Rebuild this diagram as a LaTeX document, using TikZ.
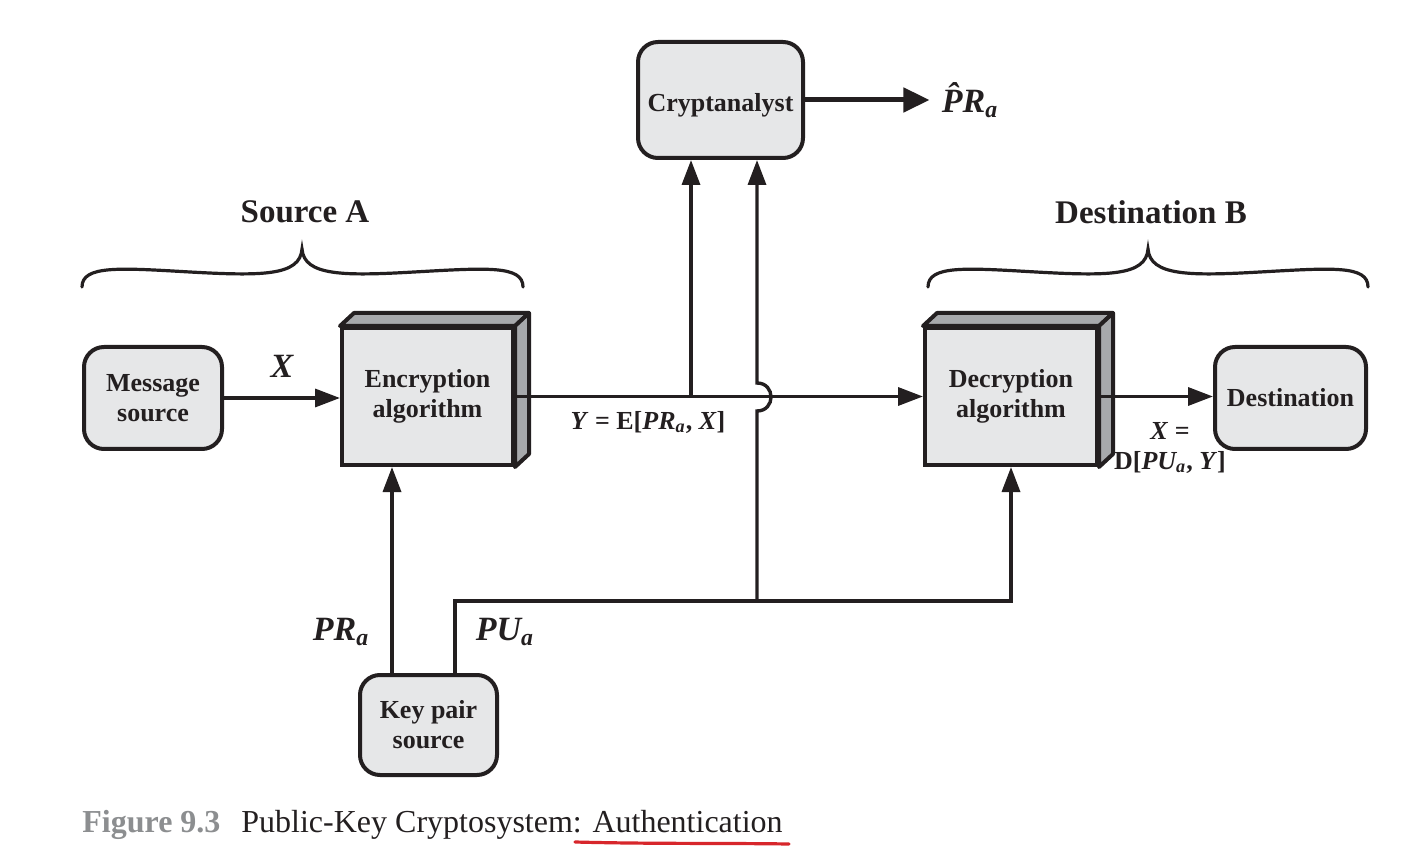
\documentclass[tikz,border=0pt]{standalone}
\usepackage{fontspec}
\setmainfont{Liberation Serif}
\usetikzlibrary{arrows.meta,calc}
\definecolor{boxfill}{HTML}{E6E7E8}
\definecolor{sidefill}{HTML}{A7A9AC}
\definecolor{ink}{HTML}{231F20}
\definecolor{capgray}{HTML}{8C8E90}
\definecolor{redmark}{HTML}{D7262B}
\newcommand\boxfont{\fontsize{13}{15}\selectfont\bfseries}
\newcommand\lblfont{\fontsize{17}{20}\selectfont\bfseries\itshape}
\newcommand\eqfont{\fontsize{13}{15}\selectfont\bfseries}
\newcommand\headfont{\fontsize{16.5}{19}\selectfont\bfseries}
\newcommand\capfont{\fontsize{16}{18}\selectfont}
\tikzset{
  rbox/.style={draw=ink, fill=boxfill, line width=2pt, rounded corners=10pt,
    align=center, font=\boxfont, text=ink, inner sep=0pt},
  cube/.style={draw=ink, fill=boxfill, line width=2pt,
    align=center, font=\boxfont, text=ink, inner sep=0pt},
  sideface/.style={draw=ink, fill=sidefill, line width=2pt, line join=round},
  conn/.style={draw=ink, line width=1.7pt},
  arr/.style={conn, -{Triangle[length=12.5pt,width=9pt]}},
  bigarr/.style={draw=ink, line width=2.5pt, -{Triangle[length=13pt,width=12pt]}},
  lbl/.style={font=\lblfont, text=ink, inner sep=1pt},
  eq/.style={font=\eqfont, text=ink, inner sep=1pt},
  head/.style={font=\headfont, text=ink, inner sep=1pt},
  bracestyle/.style={draw=ink, line width=1.6pt, line cap=round},
}
\begin{document}
\begin{tikzpicture}[x=0.5pt,y=-0.5pt]
\useasboundingbox (0,0) rectangle (1428,849);

% boxes
\node[rbox, minimum width=69pt, minimum height=51pt] (msg) at (153,398) {Message\\source};
\node[cube, minimum width=85.5pt, minimum height=68.5pt] (enc) at (427.5,396.5) {Encryption\\algorithm};
\node[cube, minimum width=86pt, minimum height=68.5pt] (dec) at (1011,396.5) {Decryption\\algorithm};
\node[rbox, minimum width=75.5pt, minimum height=51pt] (dest) at (1290.5,398) {Destination};
\node[rbox, minimum width=82.5pt, minimum height=58pt, text height=15pt, text depth=3pt] (crypt) at (720.5,100) {Cryptanalyst};
\node[rbox, minimum width=68.5pt, minimum height=50pt] (key) at (428.5,725) {Key pair\\source};

% 3D faces
\foreach \b in {enc,dec}{
  \draw[sideface] (\b.north west) -- ++(14,-13) -- ($(\b.north east)+(14,-13)$) -- (\b.north east) -- cycle;
  \draw[sideface] (\b.north east) -- ++(14,-13) -- ($(\b.south east)+(14,-13)$) -- (\b.south east) -- cycle;
}

% headings and braces
\node[head] (srcA) at (305,212) {Source A};
\node[head] (dstB) at (1151,212) {Destination B};
\draw[bracestyle] (82,287) .. controls (82,265) and (120,268) .. (190,272)
  .. controls (262,276) and (300,276) .. (302,249)
  .. controls (304,276) and (344,276) .. (414,272)
  .. controls (486,268) and (523,265) .. (523,287);
\draw[bracestyle] (928,287) .. controls (928,265) and (966,268) .. (1036,272)
  .. controls (1108,276) and (1146,276) .. (1148,249)
  .. controls (1150,276) and (1190,276) .. (1260,272)
  .. controls (1332,268) and (1368,265) .. (1368,287);

% coordinates
\coordinate (br) at (691,397);
\coordinate (hop) at (757,601);
\coordinate (kpr) at ($(key.north)+(-36.5,0)$);
\coordinate (kpu) at ($(key.north)+(26.5,0)$);

% connectors
\draw[arr] (msg.east) -- (msg.east -| enc.west);
\draw[arr] (enc.east) -- (dec.west);
\draw[arr] (br) -- (br |- crypt.south);
\draw[arr] (hop) -- (757,411) .. controls (775.7,411) and (775.7,383) .. (757,383) -- (hop |- crypt.south);
\draw[arr] (dec.east) -- (dec.east -| dest.west);
\draw[arr] (kpr) -- (kpr |- enc.south);
\draw[arr] (kpu) -- (kpu |- hop) -| (dec.south);

\node[lbl, inner sep=0pt] (prhat) at (970,100) {\^{P}R\textsubscript{a}};
\draw[bigarr] (crypt.east) -- ($(prhat.west)+(-12,0)$);

% labels
\node[lbl] (xlab) at (282,366) {X};
\node[lbl] (prlab) at (341,632) {PR\textsubscript{a}};
\node[lbl] (pulab) at (505,632) {PU\textsubscript{a}};
\node[eq] (ylab) at (648,422) {\textit{Y} = E[\textit{PR\textsubscript{a}}, \textit{X}]};
\node[eq] (xeq) at (1170,431) {\textit{X} =};
\node[eq] (dlab) at (1170,462) {D[\textit{PU\textsubscript{a}}, \textit{Y}]};

% caption
\node[anchor=base west, inner sep=0pt, font=\capfont\bfseries, text=capgray] (fig) at (82,832) {Figure 9.3};
\node[anchor=base west, inner sep=0pt, font=\capfont, text=ink] (cap) at (241,832) {Public-Key Cryptosystem: Authentication};
\draw[redmark, line width=1.6pt, line cap=round] (575,842) .. controls (650,844) and (720,843) .. (789,844);
\end{tikzpicture}
\end{document}
